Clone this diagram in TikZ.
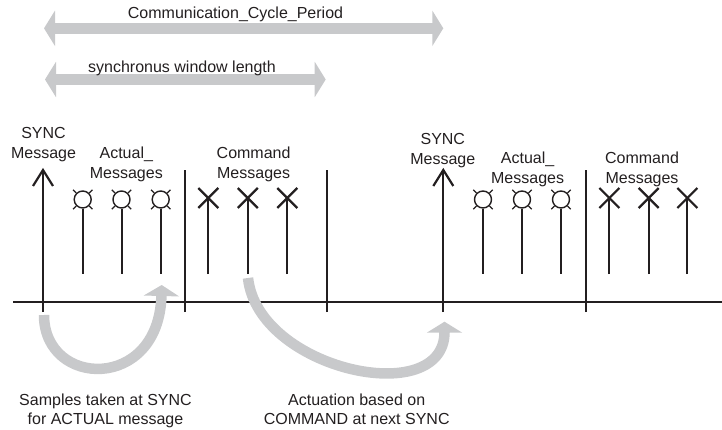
\documentclass[tikz,border=0pt]{standalone}
\usepackage{fontspec}
\setmainfont{Liberation Sans}
\usetikzlibrary{arrows.meta}
\definecolor{ink}{RGB}{35,31,32}
\definecolor{bandc}{RGB}{200,201,203}
\begin{document}
\begin{tikzpicture}[x=1pt,y=-1pt,
  lbl/.style={font=\fontsize{16}{19}\selectfont, text=ink, anchor=base, inner sep=0pt},
  bar/.style={draw=ink, line width=2.2pt},
  axisline/.style={draw=ink, line width=2.6pt},
  stem/.style={draw=ink, line width=2pt},
  actmsg/.style={circle, draw=ink, line width=1.4pt, minimum size=17pt, inner sep=0pt},
  tick/.style={draw=ink, line width=1.3pt},
  band/.style={draw=bandc, line width=10.5pt},
  bandtip/.tip={Triangle[width=35pt,length=11pt]}]
\useasboundingbox (0,0) rectangle (722,430);

% top dimension arrows
\coordinate (p1) at (44,28.3);
\coordinate (p2) at (443.3,28.3);
\draw[band, bandtip-bandtip] (p1) -- (p2);
\node[lbl] (tcycle) at (235.5,18.5) {Communication\_Cycle\_Period};

\coordinate (w1) at (45,79.5);
\coordinate (w2) at (325.7,79.5);
\draw[band, bandtip-bandtip] (w1) -- (w2);
\node[lbl] (twin) at (182,72.5) {synchronus window length};

% time axis
\coordinate (axL) at (13,302);
\coordinate (axR) at (722,302);
\draw[axisline] (axL) -- (axR);

% separators
\foreach \x/\n in {185/d1, 326.7/d2, 586/d3} {
  \coordinate (\n t) at (\x,170);
  \coordinate (\n b) at (\x,312);
  \draw[bar] (\n b) -- (\n t);
}

% SYNC messages
\foreach \x/\n in {43/s1, 443.3/s2} {
  \coordinate (\n t) at (\x,170);
  \coordinate (\n b) at (\x,312);
  \draw[bar] (\n b) -- (\n t);
  \draw[bar] (\n t) ++(-10,16) -- (\n t) -- ++(10,16);
}

% actual messages
\foreach \x/\n in {82.7/a1, 121.5/a2, 160.7/a3, 483/a4, 522/a5, 561/a6} {
  \node[actmsg] (\n) at (\x,199.5) {};
  \draw[stem] (\n.south) -- (\x,274);
  \draw[tick] (\n.north east) -- ++(3.2,-3.2);
  \draw[tick] (\n.north west) -- ++(-3.2,-3.2);
  \draw[tick] (\n.south east) -- ++(3.2,3.2);
  \draw[tick] (\n.south west) -- ++(-3.2,3.2);
}

% command messages
\foreach \x/\n in {208.3/c1, 247.8/c2, 287.3/c3, 609.3/c4, 648.7/c5, 687.3/c6} {
  \coordinate (\n) at (\x,198);
  \coordinate (\n b) at (\x,274);
  \draw[bar] (\n) ++(-10,-10) -- ++(20,20);
  \draw[bar] (\n) ++(-10,10) -- ++(20,-20);
  \draw[stem] (\n b) -- (\n);
}

% labels
\node[lbl] (ls1a) at (43.5,139) {SYNC};
\node[lbl] (ls1b) at (43.5,158.8) {Message};
\node[lbl] (la1a) at (126.3,158.8) {Actual\_};
\node[lbl] (la1b) at (126.3,178.8) {Messages};
\node[lbl] (lc1a) at (253.6,158.8) {Command};
\node[lbl] (lc1b) at (253.6,178.8) {Messages};

\node[lbl] (ls2a) at (442.8,144.8) {SYNC};
\node[lbl] (ls2b) at (442.8,164.2) {Message};
\node[lbl] (la2a) at (527.6,163.2) {Actual\_};
\node[lbl] (la2b) at (527.6,183.2) {Messages};
\node[lbl] (lc2a) at (642,163.2) {Command};
\node[lbl] (lc2b) at (642,183.2) {Messages};

% curved arrows
\coordinate (q1) at (44,315);
\coordinate (q2) at (161.7,285);
\draw[band, -bandtip] (q1) .. controls (44,388) and (159,392) .. (q2);

\coordinate (r1) at (248,278);
\coordinate (r2) at (444.5,321.7);
\draw[band, -bandtip] (r1) .. controls (258,370) and (444.5,410) .. (r2);

\node[lbl] (b1a) at (105.5,405) {Samples taken at SYNC};
\node[lbl] (b1b) at (105.5,424.3) {for ACTUAL message};
\node[lbl] (b2a) at (356.7,405) {Actuation based on};
\node[lbl] (b2b) at (356.7,424.3) {COMMAND at next SYNC};
\end{tikzpicture}
\end{document}
